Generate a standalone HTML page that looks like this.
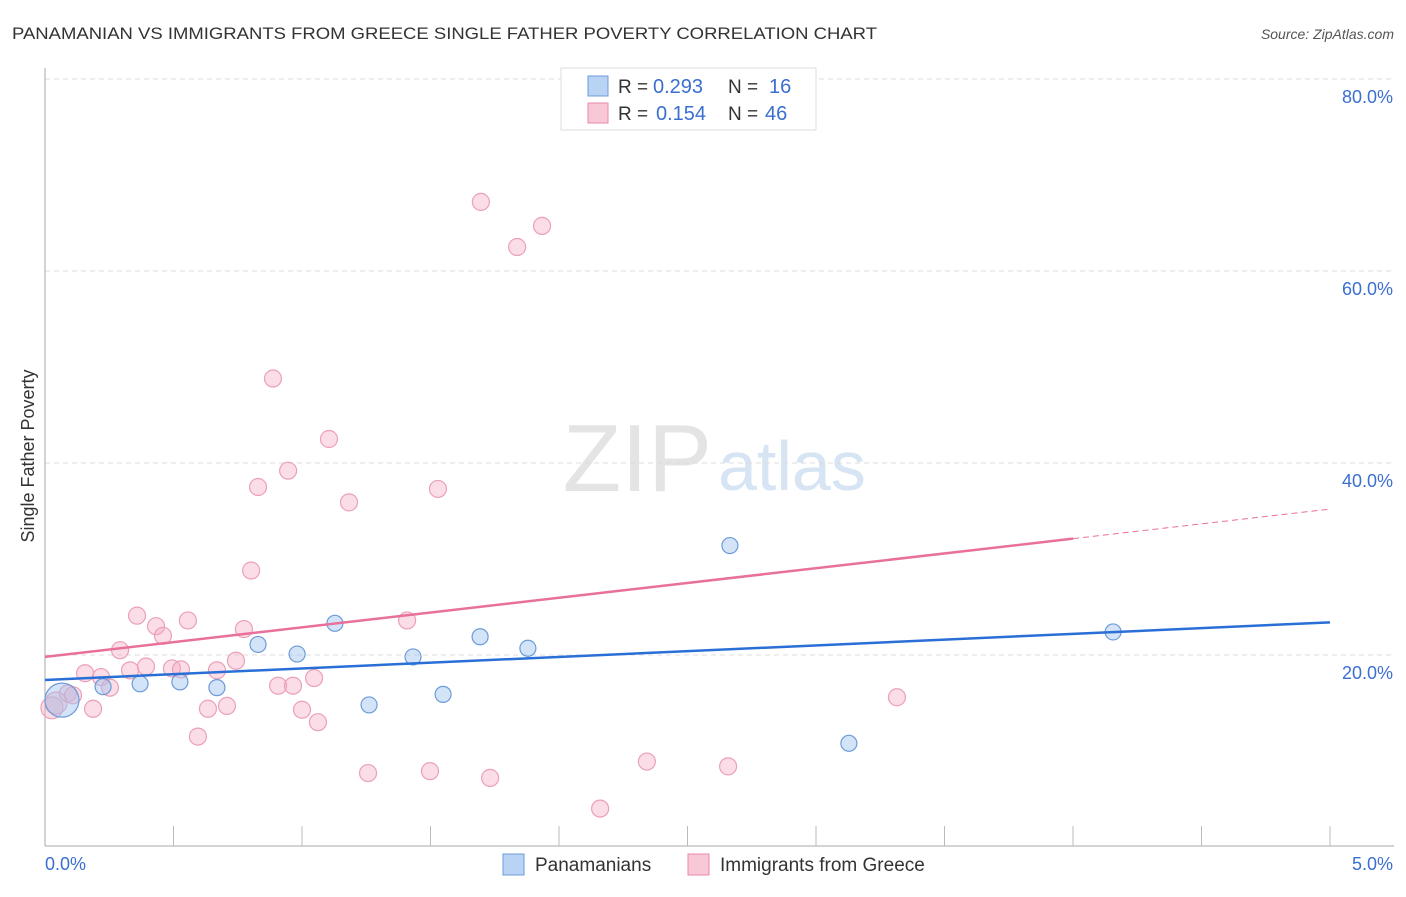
<!DOCTYPE html>
<html><head><meta charset="utf-8"><style>
body{margin:0;background:#fff;font-family:"Liberation Sans",sans-serif;}
svg text{font-family:"Liberation Sans",sans-serif;}
</style></head><body>
<svg id="c" width="1406" height="892">
<text x="12" y="39" font-size="17" fill="#333" textLength="865" lengthAdjust="spacingAndGlyphs">PANAMANIAN VS IMMIGRANTS FROM GREECE SINGLE FATHER POVERTY CORRELATION CHART</text>
<text x="1394" y="39" font-size="14" fill="#555" text-anchor="end" font-style="italic">Source: ZipAtlas.com</text>
<text x="712" y="491" font-size="96" fill="#e4e4e4" text-anchor="end" font-family="Liberation Serif">ZIP</text>
<text x="718" y="490" font-size="70" fill="#d6e4f4">atlas</text>
<g id="grid"></g><g id="axes"></g><g id="marks"></g>
<text transform="translate(34,456) rotate(-90)" font-size="18" fill="#333" text-anchor="middle">Single Father Poverty</text>
<g>
<rect x="561" y="68" width="255" height="62" fill="#fff" stroke="#ddd"/>
<rect x="588" y="76" width="20" height="20" fill="#b9d3f5" stroke="#6c9bd8"/>
<text x="618" y="93" font-size="19" fill="#333">R =</text>
<text x="653" y="93" font-size="20" fill="#3a6fd0">0.293</text>
<text x="728" y="93" font-size="19" fill="#333">N =</text>
<text x="769" y="93" font-size="20" fill="#3a6fd0">16</text>
<rect x="588" y="103" width="20" height="20" fill="#f9c8d7" stroke="#e98aa9"/>
<text x="618" y="120" font-size="19" fill="#333">R =</text>
<text x="656" y="120" font-size="20" fill="#3a6fd0">0.154</text>
<text x="728" y="120" font-size="19" fill="#333">N =</text>
<text x="765" y="120" font-size="20" fill="#3a6fd0">46</text>
</g>
<g>
<rect x="503" y="854" width="21" height="21" fill="#b9d3f5" stroke="#6c9bd8"/>
<text x="535" y="871" font-size="19" fill="#333">Panamanians</text>
<rect x="688" y="854" width="21" height="21" fill="#f9c8d7" stroke="#e98aa9"/>
<text x="720" y="871" font-size="19" fill="#333">Immigrants from Greece</text>
</g>
</svg>
<script>
const yTicks=[20,40,60,80];
const yTickLabels=["20.0%","40.0%","60.0%","80.0%"];
const xTickLabels=["0.0%","5.0%"];
const blueX=[0.066,0.226,0.370,0.525,0.669,0.829,0.981,1.128,1.261,1.432,1.549,1.693,1.879,2.665,3.128,4.156];
const blueY=[15.3,16.7,17.0,17.2,16.6,21.1,20.1,23.3,14.8,19.8,15.9,21.9,20.7,31.4,10.8,22.4];
const pinkX=[0.027,0.043,0.089,0.109,0.187,0.156,0.218,0.253,0.292,0.331,0.358,0.393,0.432,0.459,0.494,0.529,0.556,0.595,0.634,0.669,0.708,0.743,0.774,0.802,0.829,0.887,0.907,0.946,0.965,1.000,1.047,1.062,1.105,1.183,1.257,1.409,1.498,1.529,1.696,1.732,1.837,1.934,2.160,2.342,2.658,3.315];
const pinkY=[14.5,15.0,16.0,15.8,14.4,18.1,17.7,16.6,20.5,18.4,24.1,18.8,23.0,22.0,18.6,18.5,23.6,11.5,14.4,18.4,14.7,19.4,22.7,28.8,37.5,48.8,16.8,39.2,16.8,14.3,17.6,13.0,42.5,35.9,7.7,23.6,7.9,37.3,67.2,7.2,62.5,64.7,4.0,8.9,8.4,15.6];
const blueLine=[17.4,23.4];
const pinkLine=[19.8,35.2];
const pinkSolidEnd=4.0;
const NS="http://www.w3.org/2000/svg";
const sx=v=>45+v*257, sy=v=>847-v*9.6;
function mk(t,a,p){const e=document.createElementNS(NS,t);for(const k in a)e.setAttribute(k,a[k]);document.getElementById(p).appendChild(e);return e;}
yTicks.forEach((t,i)=>{
 const g=mk('line',{x1:45,x2:1394,y1:sy(t),y2:sy(t),stroke:'#ddd','stroke-dasharray':'5,4'},'grid');
 
 
 const l=mk('text',{x:1393,y:sy(t)+24,'font-size':18,fill:'#3a6fd0','text-anchor':'end'},'axes');
 l.textContent=yTickLabels[i];
 
 
});
const ax=mk('line',{x1:45,x2:45,y1:68,y2:846,stroke:'#aaa'},'axes');


const bx=mk('line',{x1:45,x2:1394,y1:846,y2:846,stroke:'#aaa'},'axes');


for(let i=1;i<=10;i++){const t=mk('line',{x1:sx(i*0.5),x2:sx(i*0.5),y1:826,y2:846,stroke:'#bbb'},'axes');
 
 }
[[0,45,'start'],[5,1393,'end']].forEach((d,i)=>{const t=mk('text',{x:d[1],y:870,'font-size':18,fill:'#3a6fd0','text-anchor':d[2]},'axes');t.textContent=xTickLabels[i];
 
 });
pinkX.forEach((x,i)=>{const c=mk('circle',{cx:sx(x),cy:sy(pinkY[i]),r:i<2?11:8.5,fill:'rgba(246,170,195,0.4)',stroke:'#eba0b8','stroke-width':1.2},'marks');
 
 });
blueX.forEach((x,i)=>{const c=mk('circle',{cx:sx(x),cy:sy(blueY[i]),r:i==0?17:8,fill:'rgba(160,196,240,0.45)',stroke:'#6c9bd8','stroke-width':1.2},'marks');
 
 });
const bl=mk('line',{x1:sx(0),y1:sy(blueLine[0]),x2:sx(5),y2:sy(blueLine[1]),stroke:'#2a6fd6','stroke-width':2.5},'marks');


const pm=pinkLine[0]+(pinkLine[1]-pinkLine[0])*pinkSolidEnd/5;
const pl=mk('line',{x1:sx(0),y1:sy(pinkLine[0]),x2:sx(pinkSolidEnd),y2:sy(pm),stroke:'#e8709a','stroke-width':2.5},'marks');


const pd=mk('line',{x1:sx(pinkSolidEnd),y1:sy(pm),x2:sx(5),y2:sy(pinkLine[1]),stroke:'#e8709a','stroke-width':1,'stroke-dasharray':'6,4'},'marks');


</script>
</body></html>
